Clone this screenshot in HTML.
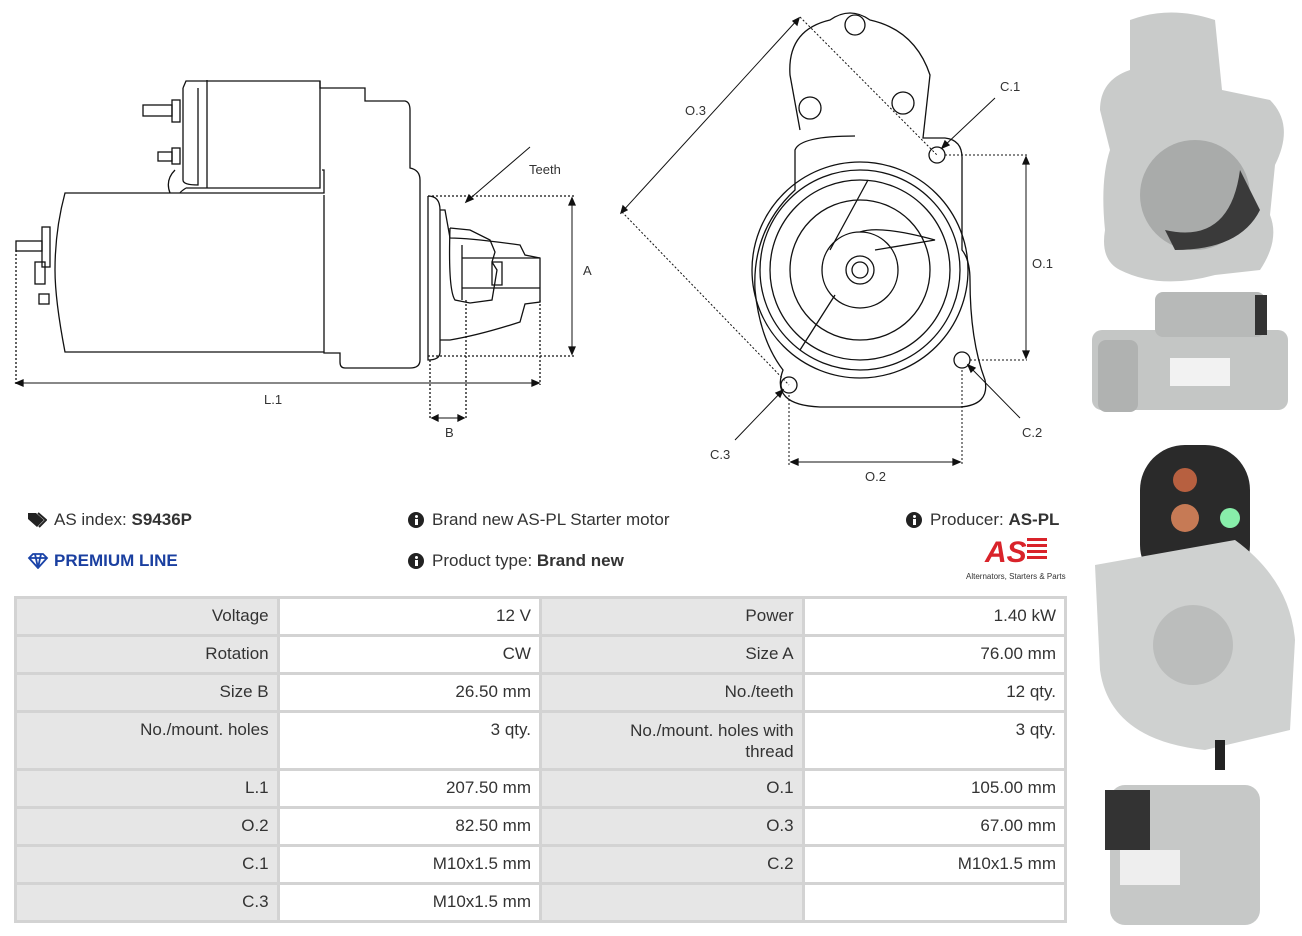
<!DOCTYPE html>
<html><head><meta charset="utf-8"><style>
body{margin:0;width:1302px;height:936px;background:#fff;font-family:"Liberation Sans",sans-serif;position:relative;overflow:hidden;color:#333}
.t{position:absolute;font-size:17px;color:#333;white-space:nowrap}
table{position:absolute;left:14px;top:596px;border-collapse:collapse;width:1053px}
td{border:3px solid #d3d3d3;font-size:17px;text-align:right;padding:7px 8px 0 8px;vertical-align:top;color:#333;height:28px}
td.l{background:#e6e6e6;width:246px}
td.v{background:#fff;width:246px}
</style></head><body>
<svg width="1302" height="500" style="position:absolute;left:0;top:0" fill="none" stroke="#111" stroke-width="1.3" font-family="Liberation Sans" font-size="13">
<path d="M183 88 L186 81 L320 81 L320 88 L365 88 L365 101 L405 101 Q410 102 410 110 L410 168 Q420 170 420 180 L420 360 Q420 368 410 368 L345 368 Q340 368 340 362 L340 353 L324 353 L324 195 L324 352 L65 352 Q55 300 55 270 Q55 230 65 193 L324 193 L324 170 L322 170"/>
<path d="M207 80 L207 188 M198 88 L198 185 Q183 185 183 180 L183 88 M320 81 L320 188 L186 188 M186 188 Q180 192 180 193 M170 193 Q165 180 175 170"/>
<rect x="172" y="100" width="8" height="22"/><rect x="143" y="105" width="29" height="11"/>
<rect x="172" y="148" width="8" height="16"/><rect x="158" y="152" width="14" height="9"/>
<rect x="42" y="227" width="8" height="40"/><rect x="16" y="241" width="26" height="10"/>
<rect x="35" y="262" width="10" height="22"/><rect x="39" y="294" width="10" height="10"/>
<path d="M428 196 L428 360 Q440 360 440 352 L440 210 Q440 196 428 196 M440 210 L445 210 L450 238 Q470 238 520 245 L525 255 L540 258 L540 302 L525 304 L520 322 Q480 335 450 340 L440 340"/>
<path d="M450 228 L470 230 L490 240 L495 252 L492 262 L497 270 L492 300 L470 303 L455 300 Q448 290 450 228 M462 245 L462 300 M462 258 L540 258 M462 288 L540 288 M492 262 L502 262 L502 285 L492 285Z"/>
<g stroke-dasharray="2,2"><path d="M428 196 L575 196 M428 356 L575 356 M16 250 L16 385 M540 300 L540 385 M430 360 L430 420 M466 300 L466 420"/></g>
<path d="M572 198 L572 354 M16 383 L539 383 M432 418 L464 418 M466 202 L530 147" stroke-width="1"/>
<path d="M572 198 l-3 7 h6z M572 354 l-3 -7 h6z M16 383 l7 -3 v6z M539 383 l-7 -3 v6z M432 418 l6 -3 v6z M464 418 l-6 -3 v6z M466 202 l3 -7 4 4z" fill="#111"/>
<g fill="#333" stroke="none"><text x="529" y="174">Teeth</text><text x="583" y="275">A</text><text x="264" y="404">L.1</text><text x="445" y="437">B</text></g>
<path d="M800 130 L790 75 Q787 30 830 20 Q850 6 870 20 Q915 30 930 75 L923 138 L945 138 Q963 140 962 160 L962 250 Q970 260 970 280 Q970 340 985 380 Q990 405 960 407 L820 407 Q770 405 783 370 Q760 340 755 290 Q752 230 795 190 L795 150 Q800 136 855 136"/>
<circle cx="855" cy="25" r="10"/><circle cx="810" cy="108" r="11"/><circle cx="903" cy="103" r="11"/>
<circle cx="860" cy="270" r="108"/><circle cx="860" cy="270" r="100"/><circle cx="860" cy="270" r="90"/><circle cx="860" cy="270" r="70"/><circle cx="860" cy="270" r="38"/><circle cx="860" cy="270" r="14"/><circle cx="860" cy="270" r="8"/>
<path d="M830 250 L868 180 M835 295 L800 350 M875 250 L935 240 Q880 225 860 232"/>
<circle cx="937" cy="155" r="8"/><circle cx="962" cy="360" r="8"/><circle cx="789" cy="385" r="8"/>
<g stroke-dasharray="2,2" stroke-width="1"><path d="M945 155 L1027 155 M970 360 L1027 360 M789 395 L789 465 M962 370 L962 465 M622 212 L789 385 M800 17 L937 155"/></g>
<path d="M1026 157 L1026 358 M791 462 L960 462 M621 213 L799 18 M942 148 L995 98 M968 365 L1020 418 M783 390 L735 440" stroke-width="1"/>
<path d="M1026 157 l-3 7 h6z M1026 358 l-3 -7 h6z M791 462 l7 -3 v6z M960 462 l-7 -3 v6z M621 213 l2 -7 4 4z M799 18 l-2 7 -4 -4z M942 148 l3 -7 4 4z M968 365 l7 3 -4 4z M783 390 l-3 7 -4 -4z" fill="#111"/>
<g fill="#333" stroke="none"><text x="685" y="115">O.3</text><text x="1000" y="91">C.1</text><text x="1032" y="268">O.1</text><text x="1022" y="437">C.2</text><text x="710" y="459">C.3</text><text x="865" y="481">O.2</text></g>
<g stroke="none">
<path d="M1130 20 Q1170 5 1215 20 L1222 90 L1270 100 Q1295 125 1275 165 L1270 215 Q1280 240 1260 270 L1215 275 Q1160 290 1120 270 Q1100 260 1105 230 Q1100 180 1110 150 L1100 110 Q1100 80 1130 70Z" fill="#c9cbca"/>
<circle cx="1195" cy="195" r="55" fill="#a9abaa"/><path d="M1165 230 Q1230 245 1240 170 L1260 210 Q1240 250 1175 250Z" fill="#3a3a3a"/>
<rect x="1092" y="330" width="196" height="80" rx="10" fill="#c4c6c5"/><rect x="1155" y="292" width="110" height="45" rx="8" fill="#b7b9b8"/>
<rect x="1170" y="358" width="60" height="28" fill="#f2f2f2"/><rect x="1255" y="295" width="12" height="40" fill="#333"/>
<rect x="1098" y="340" width="40" height="72" rx="8" fill="#b0b2b1"/>
</g>
</svg>
<svg width="220" height="490" style="position:absolute;top:440px;left:1085px" stroke="none">
<rect x="55" y="5" width="110" height="145" rx="45" fill="#2a2a2a"/>
<circle cx="100" cy="40" r="12" fill="#b76040"/><circle cx="100" cy="78" r="14" fill="#c67a55"/><circle cx="145" cy="78" r="10" fill="#8ea"/>
<path d="M10 125 L150 100 Q205 140 210 200 L205 290 L120 310 Q25 300 15 230Z" fill="#cfd1d0"/>
<circle cx="108" cy="205" r="40" fill="#bbbdbc"/>
<rect x="130" y="300" width="10" height="30" fill="#222"/>
<rect x="25" y="345" width="150" height="140" rx="15" fill="#c6c8c7"/><rect x="20" y="350" width="45" height="60" fill="#333"/>
<rect x="35" y="410" width="60" height="35" fill="#eee"/>
</svg>
<svg style="position:absolute;left:27px;top:512px" width="20" height="16"><path d="M1 1 h8 l8 7 -7 7 -9 -8z" fill="#222"/><path d="M11 1 l8 7 -7 7" fill="none" stroke="#222" stroke-width="2"/></svg>
<div class="t" style="left:54px;top:510px">AS index: <b>S9436P</b></div>
<svg style="position:absolute;left:27px;top:553px" width="22" height="16"><path d="M2 5 l4 -4 h10 l4 4 -9 10z M2 5 h18 M8 1 l3 14 3 -14" fill="none" stroke="#1a43a8" stroke-width="1.8"/></svg>
<div class="t" style="left:54px;top:551px;color:#1a3fa0;font-weight:bold">PREMIUM LINE</div>
<svg style="position:absolute;left:408px;top:512px" width="16" height="16"><circle cx="8" cy="8" r="8" fill="#222"/><rect x="7" y="7" width="3" height="6" fill="#fff"/><circle cx="8.5" cy="4.5" r="1.5" fill="#fff"/></svg>
<div class="t" style="left:432px;top:510px">Brand new AS-PL Starter motor</div>
<svg style="position:absolute;left:408px;top:553px" width="16" height="16"><circle cx="8" cy="8" r="8" fill="#222"/><rect x="7" y="7" width="3" height="6" fill="#fff"/><circle cx="8.5" cy="4.5" r="1.5" fill="#fff"/></svg>
<div class="t" style="left:432px;top:551px">Product type: <b>Brand new</b></div>
<svg style="position:absolute;left:906px;top:512px" width="16" height="16"><circle cx="8" cy="8" r="8" fill="#222"/><rect x="7" y="7" width="3" height="6" fill="#fff"/><circle cx="8.5" cy="4.5" r="1.5" fill="#fff"/></svg>
<div class="t" style="left:930px;top:510px">Producer: <b>AS-PL</b></div>
<div style="position:absolute;left:985px;top:538px;width:70px;height:30px;color:#d9232a;font:italic bold 30px 'Liberation Sans';line-height:30px">AS<span style="display:inline-block;width:20px;height:24px;background:repeating-linear-gradient(#d9232a 0 3px,#fff 3px 6px)"></span></div>
<div class="t" style="left:966px;top:572px;font-size:8px">Alternators, Starters &amp; Parts</div>
<table>
<tr><td class="l">Voltage</td><td class="v">12 V</td><td class="l">Power</td><td class="v">1.40 kW</td></tr>
<tr><td class="l">Rotation</td><td class="v">CW</td><td class="l">Size A</td><td class="v">76.00 mm</td></tr>
<tr><td class="l">Size B</td><td class="v">26.50 mm</td><td class="l">No./teeth</td><td class="v">12 qty.</td></tr>
<tr><td class="l" style="height:48px">No./mount. holes</td><td class="v">3 qty.</td><td class="l" style="line-height:21px">No./mount. holes with<br>thread</td><td class="v">3 qty.</td></tr>
<tr><td class="l">L.1</td><td class="v">207.50 mm</td><td class="l">O.1</td><td class="v">105.00 mm</td></tr>
<tr><td class="l">O.2</td><td class="v">82.50 mm</td><td class="l">O.3</td><td class="v">67.00 mm</td></tr>
<tr><td class="l">C.1</td><td class="v">M10x1.5 mm</td><td class="l">C.2</td><td class="v">M10x1.5 mm</td></tr>
<tr><td class="l">C.3</td><td class="v">M10x1.5 mm</td><td class="l"></td><td class="v"></td></tr>
</table>
</body></html>
